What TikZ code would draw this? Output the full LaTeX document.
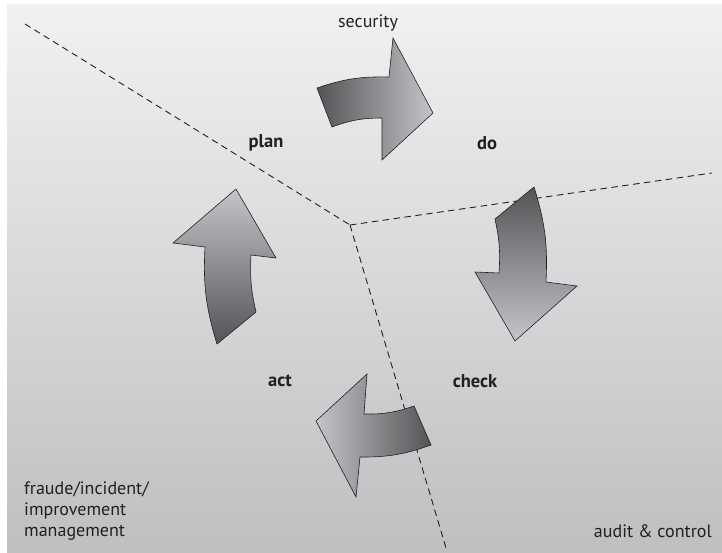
\documentclass[tikz,border=0pt]{standalone}
\usepackage{fontspec}
\setmainfont{PT Sans}
\definecolor{bgtop}{HTML}{F1F1F2}
\definecolor{bgbot}{HTML}{BEBFC1}
\definecolor{arrdark}{HTML}{545457}
\definecolor{arrlight}{HTML}{C4C5C8}
\definecolor{ink}{HTML}{231F20}

\begin{document}
\begin{tikzpicture}[x=1pt, y=-1pt,
  every node/.style={font=\fontsize{18}{21}\selectfont, text=ink},
  phase/.style={font=\fontsize{18.5}{21}\selectfont\bfseries},
  border/.style={dash pattern=on 6.5pt off 4.5pt, line width=0.9pt, ink},
  cyclearrow/.style={draw=ink, line width=0.6pt, line join=miter}
]
\useasboundingbox (0,0) rectangle (722,553);

% ---- background ----
\shade[top color=bgtop, bottom color=bgbot] (7,5) rectangle (722,553);

% ---- dashed borders between the three fields ----
\coordinate (hub) at (350,225);
\coordinate (nw) at (25,24);
\coordinate (ea) at (712,173);
\coordinate (so) at (446,548);
\draw[border] (nw) -- (hub);
\draw[border] (hub) -- (ea);
\draw[border] (hub) -- (so);

% ---- cycle arrows ----
% plan -> do
\path[cyclearrow, left color=arrdark, right color=arrlight]
  (317,88) to[bend left=10] (389,77) -- (393,38) -- (433,113) -- (382,160)
  -- (382,118) to[bend right=10] (332,127) -- cycle;
% do -> check
\path[cyclearrow, top color=arrdark, bottom color=arrlight]
  (495,219) -- (534,187) to[bend left=10] (546,282) -- (577,286) -- (515,341)
  -- (475,272) -- (499,273) to[bend right=8] (495,219) -- cycle;
% check -> act
\path[cyclearrow, left color=arrlight, right color=arrdark]
  (414,406) -- (431,445) to[bend left=10] (360,457) -- (356,497) -- (316,421)
  -- (367,374) -- (364,414) to[bend right=10] (414,406) -- cycle;
% act -> plan
\path[cyclearrow, top color=arrlight, bottom color=arrdark]
  (256,312) -- (217,344) to[bend left=10] (205,247) -- (173,243) -- (236,189)
  -- (276,258) -- (251,255) to[bend right=8] (256,312) -- cycle;

% ---- phases ----
\node[phase] (plan) at (266,143) {plan};
\node[phase] (do) at (487,143) {do};
\node[phase] (check) at (475,381) {check};
\node[phase] (act) at (280,381) {act};

% ---- fields ----
\node (security) at (368,23) {security};
\node[anchor=west, align=left, inner sep=0pt] (fraud) at (24,511)
  {fraude/incident/\\improvement\\management};
\node[anchor=east, inner sep=0pt] (audit) at (712,531) {audit \& control};

\end{tikzpicture}
\end{document}
